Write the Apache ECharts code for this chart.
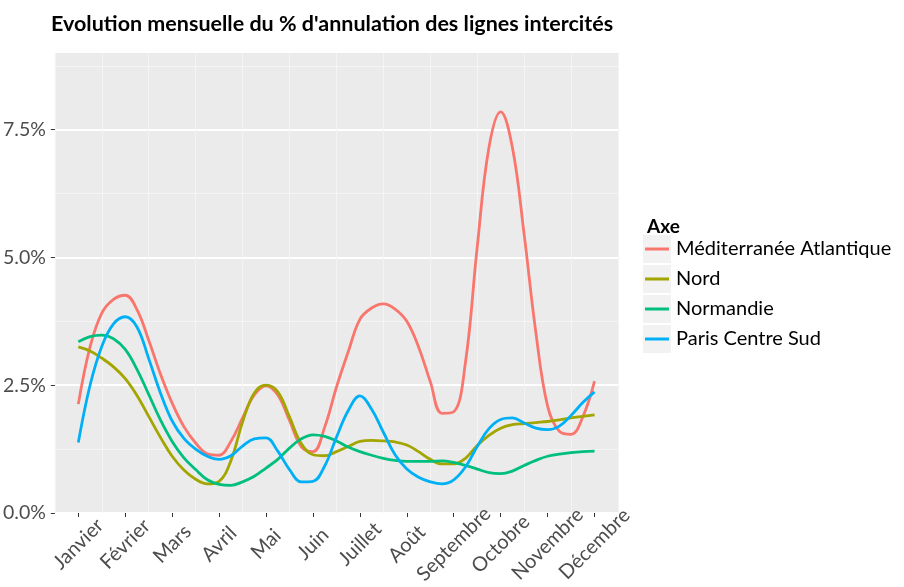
<!DOCTYPE html>
<html>
<head>
<meta charset="utf-8">
<script src="https://cdn.jsdelivr.net/npm/echarts@6/dist/echarts.min.js"></script>
<style>
  html, body { margin: 0; padding: 0; background: #fff; }
  #chart { width: 904px; height: 587px; }
</style>
</head>
<body>
<div id="chart"></div>
<script>
// mois affichés sur l'axe x
const months = ["Janvier", "Février", "Mars", "Avril", "Mai", "Juin", "Juillet", "Août", "Septembre", "Octobre", "Novembre", "Décembre"];
const yTicks = [0, 2.5, 5, 7.5];

// valeurs (%) lues tous les quarts de mois, de Janvier (1) à Décembre (12)
const mediterranee = [2.13, 3.25, 3.91, 4.18, 4.26, 3.98, 3.38, 2.72, 2.15,
  1.69, 1.37, 1.16, 1.13, 1.40, 1.86, 2.31, 2.49,
  2.31, 1.81, 1.30, 1.20, 1.68, 2.46, 3.15, 3.79,
  4.01, 4.09, 3.99, 3.75, 3.25, 2.57, 1.95, 1.98,
  2.95, 5.2, 7.15, 7.85, 7.15, 5.45, 3.53, 2.09,
  1.6, 1.54, 1.88, 2.58];
const nord = [3.25, 3.17, 3.03, 2.86, 2.63, 2.30, 1.89, 1.48, 1.11,
  0.84, 0.66, 0.57, 0.62, 1.02, 1.78, 2.35, 2.50,
  2.37, 1.88, 1.36, 1.14, 1.12, 1.20, 1.30, 1.40,
  1.42, 1.41, 1.39, 1.33, 1.20, 1.05, 0.96, 0.96,
  1.07, 1.32, 1.52, 1.66, 1.73, 1.75, 1.77, 1.79,
  1.82, 1.86, 1.89, 1.92];
const normandie = [3.35, 3.45, 3.48, 3.41, 3.20, 2.81, 2.32, 1.82, 1.40,
  1.08, 0.85, 0.65, 0.56, 0.54, 0.61, 0.72, 0.88,
  1.05, 1.27, 1.45, 1.53, 1.50, 1.41, 1.29, 1.20,
  1.13, 1.07, 1.03, 1.01, 1.01, 1.01, 1.02, 0.99,
  0.93, 0.86, 0.79, 0.77, 0.82, 0.93, 1.03, 1.11,
  1.15, 1.18, 1.20, 1.21];
const parisCentreSud = [1.38, 2.50, 3.26, 3.70, 3.84, 3.64, 3.02, 2.35, 1.80,
  1.46, 1.25, 1.11, 1.05, 1.12, 1.31, 1.45, 1.47,
  1.21, 0.85, 0.61, 0.62, 0.92, 1.48, 2.0, 2.29,
  2.03, 1.58, 1.14, 0.86, 0.70, 0.61, 0.57, 0.65,
  0.90, 1.30, 1.65, 1.83, 1.86, 1.76, 1.66, 1.63,
  1.70, 1.91, 2.16, 2.37];

const seriesNames = ["Méditerranée Atlantique", "Nord", "Normandie", "Paris Centre Sud"];
const seriesValues = [mediterranee, nord, normandie, parisCentreSud];
const colors = ["#F8766D", "#A3A500", "#00BF7D", "#00B0F6"];

// catégories : 0.5 à 12.5 par quart de mois (marge d'un demi-mois de chaque côté)
const positions = [];
for (let k = 2; k <= 50; k++) positions.push(String(k / 4));
const pad = (v) => [null, null, ...v, null, null];

const FONT = "Lato";
const chart = echarts.init(document.getElementById("chart"));

const option = {
  animation: false,
  textStyle: { fontFamily: FONT },
  title: [
    {
      text: "Evolution mensuelle du % d'annulation des lignes intercités",
      left: 46,
      top: 8,
      textStyle: { fontFamily: FONT, fontSize: 21.5, fontWeight: "bold", color: "#000" },
    },
    {
      text: "Axe",
      left: 642,
      top: 212,
      textStyle: { fontFamily: FONT, fontSize: 19, fontWeight: "bold", color: "#000" },
    },
  ],
  grid: {
    left: 52,
    right: 286,
    top: 53,
    bottom: 74,
    show: true,
    backgroundColor: "#ebebeb",
    borderWidth: 0,
  },
  legend: {
    orient: "vertical",
    left: 645,
    top: 239,
    padding: 0,
    itemWidth: 24,
    itemHeight: 3,
    itemGap: 10,
    icon: "rect",
    data: seriesNames,
    textStyle: { fontFamily: FONT, fontSize: 20, color: "#000", lineHeight: 20, padding: [0, 0, 0, 2] },
  },
  graphic: seriesNames.map((n, i) => ({
    type: "rect",
    left: 643,
    top: 235 + i * 30,
    z: -1,
    shape: { width: 28, height: 28 },
    style: { fill: "#f2f2f2" },
  })),
  xAxis: {
    type: "category",
    data: positions,
    boundaryGap: false,
    axisLine: { show: false },
    axisTick: {
      show: true,
      length: 4,
      interval: (i, v) => Number(v) % 1 === 0,
      lineStyle: { color: "#333" },
    },
    axisLabel: {
      interval: (i, v) => Number(v) % 1 === 0,
      formatter: (v) => months[Number(v) - 1] || "",
      rotate: 45,
      align: "center",
      verticalAlign: "middle",
      margin: 31,
      fontFamily: FONT,
      fontSize: 20,
      color: "#4d4d4d",
    },
    splitLine: {
      show: true,
      interval: (i, v) => Number(v) % 1 === 0.5,
      lineStyle: { color: "#f4f4f4", width: 1 },
    },
  },
  yAxis: [
    {
      type: "value",
      min: 0,
      max: 9,
      interval: 2.5,
      axisLine: { show: false },
      axisTick: { show: true, length: 4, customValues: yTicks, lineStyle: { color: "#333" } },
      axisLabel: {
        margin: 9,
        customValues: yTicks,
        fontFamily: FONT,
        fontSize: 19.5,
        color: "#4d4d4d",
        formatter: (v) => v.toFixed(1) + "%",
      },
      splitLine: { show: true, lineStyle: { color: "#ffffff", width: 2 } },
    },
    {
      type: "value",
      min: 0,
      max: 9,
      interval: 1.25,
      axisLine: { show: false },
      axisTick: { show: false },
      axisLabel: { show: false },
      splitLine: { show: true, lineStyle: { color: ["rgba(0,0,0,0)", "#f5f5f5"], width: 1 } },
    },
  ],
  series: seriesNames.map((name, i) => ({
    name: name,
    type: "line",
    yAxisIndex: 0,
    data: pad(seriesValues[i]),
    smooth: 0.4,
    showSymbol: false,
    symbol: "none",
    color: colors[i],
    lineStyle: { width: 2.8, color: colors[i] },
  })),
};

chart.setOption(option);
</script>
</body>
</html>
